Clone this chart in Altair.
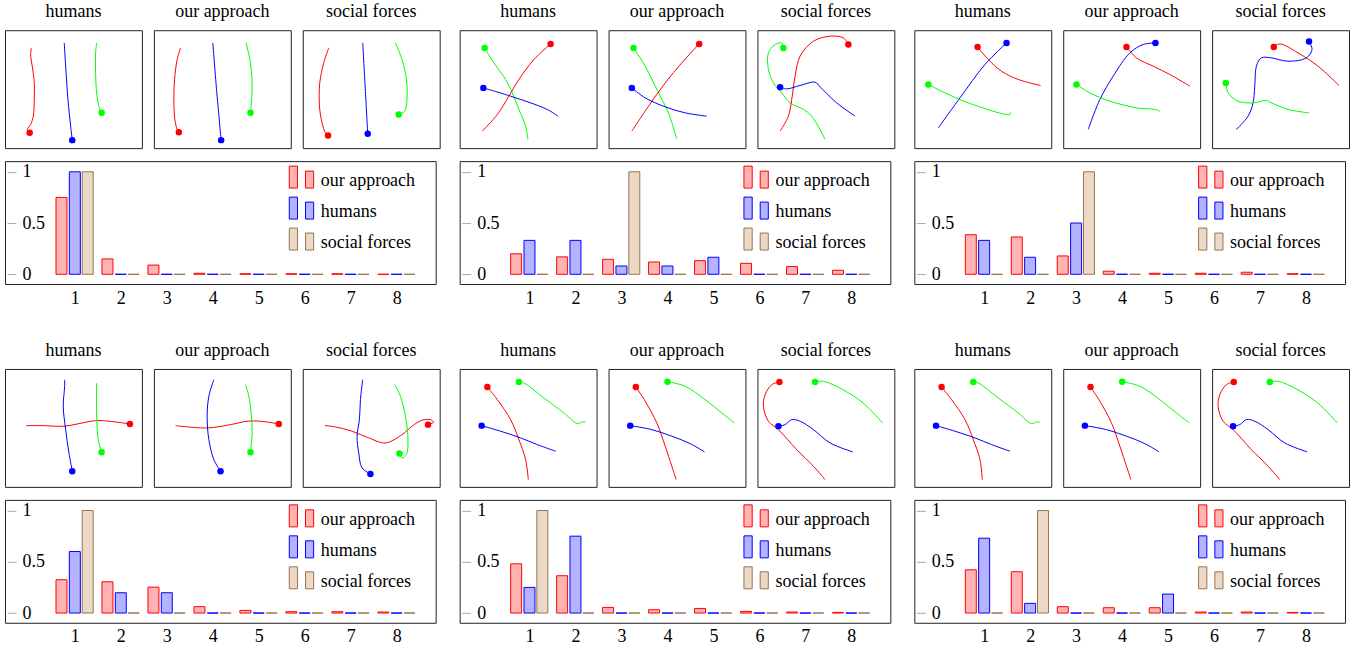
import altair as alt
import pandas as pd

FONT = "Liberation Serif"

# ---------------- bar data (8 categories) ----------------
CATEGORIES = [1, 2, 3, 4, 5, 6, 7, 8]
SERIES = ["our approach", "humans", "social forces"]

S1_OURS_BAR = [0.75, 0.15, 0.09, 0.01, 0.005, 0.005, 0.005, 0.0]
S1_HUMANS_BAR = [1.0, 0, 0, 0, 0, 0, 0, 0]
S1_SF_BAR = [1.0, 0, 0, 0, 0, 0, 0, 0]

S2_OURS_BAR = [0.20, 0.17, 0.146, 0.12, 0.133, 0.107, 0.075, 0.039]
S2_HUMANS_BAR = [0.331, 0.331, 0.081, 0.081, 0.166, 0, 0, 0]
S2_SF_BAR = [0, 0, 1.0, 0, 0, 0, 0, 0]

S3_OURS_BAR = [0.386, 0.364, 0.179, 0.03, 0.01, 0.01, 0.02, 0.005]
S3_HUMANS_BAR = [0.331, 0.166, 0.5, 0, 0, 0, 0, 0]
S3_SF_BAR = [0, 0, 1.0, 0, 0, 0, 0, 0]

S4_OURS_BAR = [0.325, 0.305, 0.253, 0.062, 0.026, 0.013, 0.013, 0.01]
S4_HUMANS_BAR = [0.6, 0.198, 0.198, 0, 0, 0, 0, 0]
S4_SF_BAR = [1.0, 0, 0, 0, 0, 0, 0, 0]

S5_OURS_BAR = [0.48, 0.364, 0.055, 0.032, 0.045, 0.016, 0.01, 0.006]
S5_HUMANS_BAR = [0.25, 0.75, 0, 0, 0, 0, 0, 0]
S5_SF_BAR = [1.0, 0, 0, 0, 0, 0, 0, 0]

S6_OURS_BAR = [0.422, 0.403, 0.062, 0.052, 0.052, 0.01, 0.01, 0.006]
S6_HUMANS_BAR = [0.73, 0.094, 0, 0, 0.185, 0, 0, 0]
S6_SF_BAR = [0, 1.0, 0, 0, 0, 0, 0, 0]

# ---------------- trajectories (panel units, y downward; first point = dot) ----------------
S1_HUMANS = {
    "red": [(24.7, 102.7), (22.3, 99.3), (25.7, 94.3), (28.3, 86), (29.3, 69.3), (29.3, 52.7), (27.3, 36), (25.7, 26), (26.3, 17.7)],
    "blue": [(67.3, 110), (65.7, 96), (63, 69.3), (60.7, 36), (59.3, 12.7)],
    "green": [(96.7, 82.7), (94, 76), (91.7, 62.7), (90.7, 42.7), (90.7, 22.7), (91.7, 12.7)],
}
S1_OURS = {
    "red": [(25, 102), (23.3, 99.3), (21, 89.3), (20, 69.3), (20.7, 49.3), (23.3, 29.3), (26.7, 17.7)],
    "blue": [(67.3, 110), (62.7, 59.3), (59, 12.7)],
    "green": [(96.7, 82.7), (97.3, 76), (98.3, 52.7), (96, 29.3), (92.3, 12.7)],
}
S1_SF = {
    "red": [(25.3, 105.3), (22.7, 102.7), (19.3, 92.7), (16.7, 76), (17, 52.7), (21, 32.7), (26, 17.7)],
    "blue": [(65, 103.7), (62.5, 58), (60, 12.7)],
    "green": [(96, 84.3), (102, 81), (104.3, 69.3), (103.7, 49.3), (99.3, 29.3), (92.7, 12.7)],
}

S2_HUMANS = {
    "green": [(25, 17.7), (34.3, 32.7), (46, 49.3), (52.7, 62.7), (59.3, 79.3), (66, 96), (68.3, 109.3)],
    "red": [(91, 13.7), (74.3, 29.3), (59.3, 49.3), (49.3, 66), (37.7, 84.3), (22.7, 101)],
    "blue": [(23.7, 57.7), (51, 66), (87.7, 79.3), (98.3, 86)],
}
S2_OURS = {
    "green": [(25, 17.7), (36.7, 36), (50, 62.7), (60, 82.7), (68.3, 109.3)],
    "red": [(90.7, 13.7), (73.3, 32.7), (56.7, 52.7), (40, 76), (23.3, 101)],
    "blue": [(23.3, 57.7), (36.7, 67.7), (56.7, 76.7), (76.7, 82.7), (98.3, 86)],
}
S2_SF = {
    "green": [(26, 17.7), (24.3, 12.7), (17.7, 14.3), (11, 22.7), (11, 39.3), (16, 52.7), (24.3, 62.7), (32.7, 72.7), (46, 79.3), (54.3, 86), (67.7, 109.3)],
    "red": [(91, 14.3), (86, 7.7), (72.7, 6), (56, 11), (42.7, 26), (37.7, 46), (34.3, 69.3), (31, 86), (22.7, 101)],
    "blue": [(22.7, 57), (29.3, 58.7), (42.7, 55.3), (57.7, 52), (62.7, 56.7), (79.3, 72.7), (97.7, 86)],
}

S3_HUMANS = {
    "red": [(63.3, 16.7), (74, 29.3), (87.3, 41), (104, 49.3), (126.3, 55.3)],
    "blue": [(92.3, 12.7), (70.7, 34.3), (45.7, 67.7), (24, 97.7)],
    "green": [(14, 54.3), (30.7, 62.7), (54, 72.7), (95.7, 84.3), (96.3, 82)],
}
S3_OURS = {
    "red": [(63.3, 16.7), (73.3, 27.7), (90, 36), (106.7, 44.3), (126.7, 56)],
    "blue": [(92.3, 12.7), (80, 14.3), (66.7, 22.7), (50, 46), (36.7, 69.3), (25, 99.3)],
    "green": [(13.3, 54.3), (26.7, 62.7), (46.7, 71), (73.3, 77.7), (95, 80), (96.7, 82)],
}
S3_SF = {
    "red": [(61.7, 16.7), (67.7, 13.7), (86, 22.7), (106, 36), (127, 55.3)],
    "blue": [(97, 11.3), (100, 19.3), (94.3, 27.7), (76, 31), (59.3, 27.7), (49.3, 27.7), (44.3, 36), (42.7, 56), (41, 72.7), (36, 86), (24.3, 99.3)],
    "green": [(13.7, 52.7), (16, 62.7), (26, 71), (41, 72.7), (54.3, 70.3), (59.3, 72.7), (76, 79.3), (97, 82.7)],
}

S4_HUMANS = {
    "red": [(125, 55), (104, 52.3), (90.7, 51.7), (74, 54.7), (59, 57.3), (37.3, 56.7), (21.3, 56.7)],
    "blue": [(67.3, 102.3), (64, 84), (60.7, 60.7), (58.3, 37.3), (59.7, 17.3), (59.7, 10.7)],
    "green": [(96.7, 83.3), (93.3, 70.7), (91.7, 44), (91.7, 14)],
}
S4_OURS = {
    "red": [(125, 55), (106.7, 52.3), (93.3, 52.3), (76.7, 55.7), (53.3, 59), (21.7, 56.7)],
    "blue": [(66.7, 102.3), (60, 90.7), (55, 70.7), (53.3, 47.3), (55, 27.3), (60, 10.7)],
    "green": [(96.7, 83.3), (98.3, 64), (97.3, 44), (95, 27.3), (91.7, 15.7)],
}
S4_SF = {
    "red": [(125.3, 55.7), (131, 53.3), (127.7, 50.7), (119.3, 51.3), (109.3, 57.3), (99.3, 65.7), (82.7, 74), (66, 69), (49.3, 62.3), (32.7, 58), (22, 56.7)],
    "blue": [(67.7, 105), (59.3, 99), (56, 84), (54.3, 67.3), (56.7, 50.7), (57.7, 30.7), (60, 10.7)],
    "green": [(96.7, 84.7), (99.3, 89), (103.7, 85.7), (105.3, 70.7), (102.7, 47.3), (97.7, 27.3), (92, 15.7)],
}

S5_HUMANS = {
    "red": [(27.7, 18), (37.7, 30.7), (51, 50.7), (59.3, 70.7), (66, 90.7), (68.7, 110.7)],
    "green": [(59.3, 13), (64.3, 14), (84.3, 29), (104.3, 44), (117.7, 54.7), (122.7, 53), (126, 53.3)],
    "blue": [(22, 56.7), (41, 62.3), (61, 69), (77.7, 75.7), (96, 82.3)],
}
S5_OURS = {
    "red": [(27.3, 18), (36.7, 32.3), (48.3, 54), (56.7, 77.3), (63.3, 97.3), (67.7, 110.7)],
    "green": [(59, 12.7), (76.7, 17.3), (96.7, 30.7), (113.3, 44), (126, 54)],
    "blue": [(21.7, 56.7), (43.3, 60.7), (63.3, 67.3), (81.7, 74.7), (96, 83)],
}
S5_SF = {
    "red": [(22, 13), (14.3, 15.7), (7.7, 25.7), (6, 37.3), (11, 52.3), (21, 60.7), (39.3, 80.7), (56, 97.3), (67.7, 110.7)],
    "green": [(57.7, 13), (66, 12.3), (86, 21), (106, 34.3), (125.3, 54)],
    "blue": [(21, 57.3), (27.7, 55.7), (34.3, 50.7), (42.7, 52.3), (56, 60.7), (72.7, 74), (95.3, 83)],
}

S6_HUMANS = {
    "red": [(27.3, 18), (37.3, 30.7), (50.7, 50.7), (59, 70.7), (65.7, 90.7), (68, 110.7)],
    "green": [(59, 13), (64, 14), (84, 29), (104, 44), (117.3, 54.7), (122.3, 53), (125.7, 53.3)],
    "blue": [(21.7, 56.7), (40.7, 62.3), (60.7, 69), (77.3, 75.7), (95.7, 82.3)],
}
S6_OURS = {
    "red": [(27.3, 18), (36.7, 32.3), (48.3, 54), (56.7, 77.3), (63.3, 97.3), (67.7, 110.7)],
    "green": [(59, 12.7), (76.7, 17.3), (96.7, 30.7), (113.3, 44), (126, 54)],
    "blue": [(21.7, 56.7), (43.3, 60.7), (63.3, 67.3), (81.7, 74.7), (96, 83)],
}
S6_SF = {
    "red": [(21.7, 13), (14.3, 15.7), (7.7, 25.7), (6, 37.3), (11, 52.3), (21, 60.7), (39.3, 80.7), (56, 97.3), (67.7, 110.7)],
    "green": [(57.7, 13), (66, 12.3), (86, 21), (106, 34.3), (125.3, 54)],
    "blue": [(21, 57.3), (27.7, 55.7), (34.3, 50.7), (42.7, 52.3), (56, 60.7), (72.7, 74), (95.3, 83)],
}

PANEL_TITLES = ["humans", "our approach", "social forces"]

# ---------------- styling ----------------
PW, PH = 137, 118          # trajectory panel size
BW, BH = 431, 123          # bar chart size
AGENT_DOMAIN = ["red", "blue", "green"]
AGENT_RANGE = ["#ff0000", "#0000ff", "#00ff00"]
FILL_RANGE = ["#ffb3b3", "#b3b3ff", "#ebd9c6"]
STROKE_RANGE = ["#ff0000", "#0000ff", "#9a7350"]
LEGEND_PATH = ("M-1,-1.2H-0.34V0.56H-1Z "
               "M0.3,-0.8H0.95V0.56H0.3Z")


def panel(traj, title):
    rows = []
    for agent, pts in traj.items():
        for i, (x, y) in enumerate(pts):
            rows.append({"agent": agent, "i": i, "x": x, "y": y})
    df = pd.DataFrame(rows)
    xenc = alt.X("x:Q", scale=alt.Scale(domain=[0, PW], nice=False, zero=False), axis=None)
    yenc = alt.Y("y:Q", scale=alt.Scale(domain=[0, PH], nice=False, zero=False, reverse=True), axis=None)
    col = alt.Color("agent:N", scale=alt.Scale(domain=AGENT_DOMAIN, range=AGENT_RANGE), legend=None)
    base = alt.Chart(df)
    lines = base.mark_line(strokeWidth=1, interpolate="catmull-rom").encode(
        x=xenc, y=yenc, color=col, order="i:Q")
    dots = base.transform_filter("datum.i == 0").mark_circle(size=42, opacity=1).encode(
        x=xenc, y=yenc, color=col)
    return alt.layer(lines, dots).properties(
        width=PW, height=PH,
        title=alt.TitleParams(title, font=FONT, fontSize=18, fontWeight="normal",
                              color="black", offset=9))


def bars(ours, hum, sf):
    rows = []
    dodge = {"our approach": -0.29, "humans": 0.0, "social forces": 0.28}
    for name, vals in zip(SERIES, [ours, hum, sf]):
        for c, v in zip(CATEGORIES, vals):
            rows.append({"series": name, "cat": c, "pos": c + dodge[name], "val": v})
    df = pd.DataFrame(rows)
    leg = alt.Legend(title=None, orient="none", legendX=284, legendY=7,
                     symbolType=LEGEND_PATH, symbolSize=625, symbolStrokeWidth=1,
                     symbolOpacity=1, labelFont=FONT, labelFontSize=18,
                     labelColor="black", labelOffset=6, rowPadding=5, padding=0,
                     labelLimit=300)
    return alt.Chart(df).mark_bar(size=11, strokeWidth=1, opacity=1).encode(
        x=alt.X("pos:Q", scale=alt.Scale(domain=[-0.41, 8.74], nice=False, zero=False),
                axis=alt.Axis(values=CATEGORIES, format="d", title=None, ticks=False,
                              domain=False, grid=False, labelFont=FONT, labelFontSize=18,
                              labelColor="black", labelPadding=5)),
        y=alt.Y("val:Q", scale=alt.Scale(domain=[-0.095, 1.104], nice=False, zero=False),
                axis=alt.Axis(values=[0, 0.5, 1], format="~g", title=None, domain=False,
                              grid=False, offset=-11, tickSize=9, tickColor="#aaaaaa",
                              labelAlign="left", labelPadding=-15, labelFont=FONT,
                              labelFontSize=18, labelColor="black")),
        y2=alt.datum(0),
        fill=alt.Fill("series:N", scale=alt.Scale(domain=SERIES, range=FILL_RANGE), legend=leg),
        stroke=alt.Stroke("series:N", scale=alt.Scale(domain=SERIES, range=STROKE_RANGE), legend=leg),
    ).properties(width=BW, height=BH)


def indep(ch):
    return ch.resolve_scale(fill="independent", stroke="independent").resolve_legend(
        fill="independent", stroke="independent")


def group(trajs, bar_vals):
    top = alt.hconcat(*[panel(t, ttl) for t, ttl in zip(trajs, PANEL_TITLES)], spacing=10)
    return indep(alt.vconcat(top, bars(*bar_vals), spacing=11))


row1 = indep(alt.hconcat(
    group([S1_HUMANS, S1_OURS, S1_SF], [S1_OURS_BAR, S1_HUMANS_BAR, S1_SF_BAR]),
    group([S2_HUMANS, S2_OURS, S2_SF], [S2_OURS_BAR, S2_HUMANS_BAR, S2_SF_BAR]),
    group([S3_HUMANS, S3_OURS, S3_SF], [S3_OURS_BAR, S3_HUMANS_BAR, S3_SF_BAR]),
    spacing=18))
row2 = indep(alt.hconcat(
    group([S4_HUMANS, S4_OURS, S4_SF], [S4_OURS_BAR, S4_HUMANS_BAR, S4_SF_BAR]),
    group([S5_HUMANS, S5_OURS, S5_SF], [S5_OURS_BAR, S5_HUMANS_BAR, S5_SF_BAR]),
    group([S6_HUMANS, S6_OURS, S6_SF], [S6_OURS_BAR, S6_HUMANS_BAR, S6_SF_BAR]),
    spacing=18))

chart = indep(alt.vconcat(row1, row2, spacing=33)).properties(
    padding={"left": 4, "top": 2, "right": 4, "bottom": 4},
    background="white",
).configure_view(stroke="#222222", strokeWidth=1)

chart.save("out.html", embed_options={"renderer": "svg", "actions": False})
